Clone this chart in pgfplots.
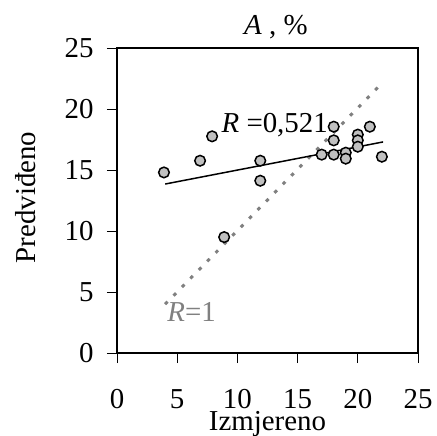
\documentclass[border=0pt]{standalone}
\usepackage{fontspec}
\setmainfont{Liberation Serif}
\usepackage{pgfplots}
\pgfplotsset{compat=1.18}
\definecolor{mfill}{RGB}{192,192,192}
\definecolor{rgray}{RGB}{128,128,128}
\begin{document}
\begin{tikzpicture}
\begin{axis}[name=ax, scale only axis, width=301bp, height=305bp,
  xmin=0, xmax=25, ymin=0, ymax=25,
  xtick={0,5,...,25}, ytick={0,5,...,25},
  tick align=outside, major tick length=10bp,
  xtick pos=bottom, ytick pos=left,
  tick style={black, line width=1pt},
  axis line style={line width=1.5pt},
  font=\fontsize{29}{33}\selectfont,
  /pgf/number format/assume math mode=true,
  xticklabel style={yshift=-23bp},
  yticklabel style={xshift=-10bp},
  xlabel={Izmjereno},
  ylabel={Predviđeno},
  title={\textit{A} , \%},
  xlabel style={at={(axis description cs:0.5,-0.232)}, anchor=center},
  ylabel style={at={(axis description cs:-0.302,0.51)}, anchor=center, rotate=0},
  title style={at={(axis description cs:0.528,1.05)}, anchor=center},
  clip=false]
\addplot[rgray, line width=3pt, dash pattern=on 3.5bp off 8.5bp] coordinates {(4,4) (21.7,21.8)};
\addplot[black, line width=1.5pt] coordinates {(4,13.85) (22.1,17.3)};
\addplot[only marks, mark=*, mark size=5.3bp, mark options={fill=mfill, draw=black, line width=1.5pt}] coordinates {
(3.9,14.8) (6.9,15.76) (7.9,17.76) (8.9,9.5) (11.9,15.76) (11.9,14.12)
(17,16.26) (18,18.55) (18,17.43) (18,16.26) (19,16.42) (19,15.93)
(20,17.9) (20,17.43) (20,16.91) (21,18.55) (22,16.09)};
\node[anchor=center] at (axis cs:13.1,18.7) {\textit{R} =0,521};
\node[anchor=center, text=rgray] at (axis cs:6.2,3.4) {\textit{R}=1};
\end{axis}
\pgfresetboundingbox
\path ([shift={(-117bp,-83bp)}]ax.south west) rectangle ([shift={(19bp,48bp)}]ax.north east);
\end{tikzpicture}
\end{document}
